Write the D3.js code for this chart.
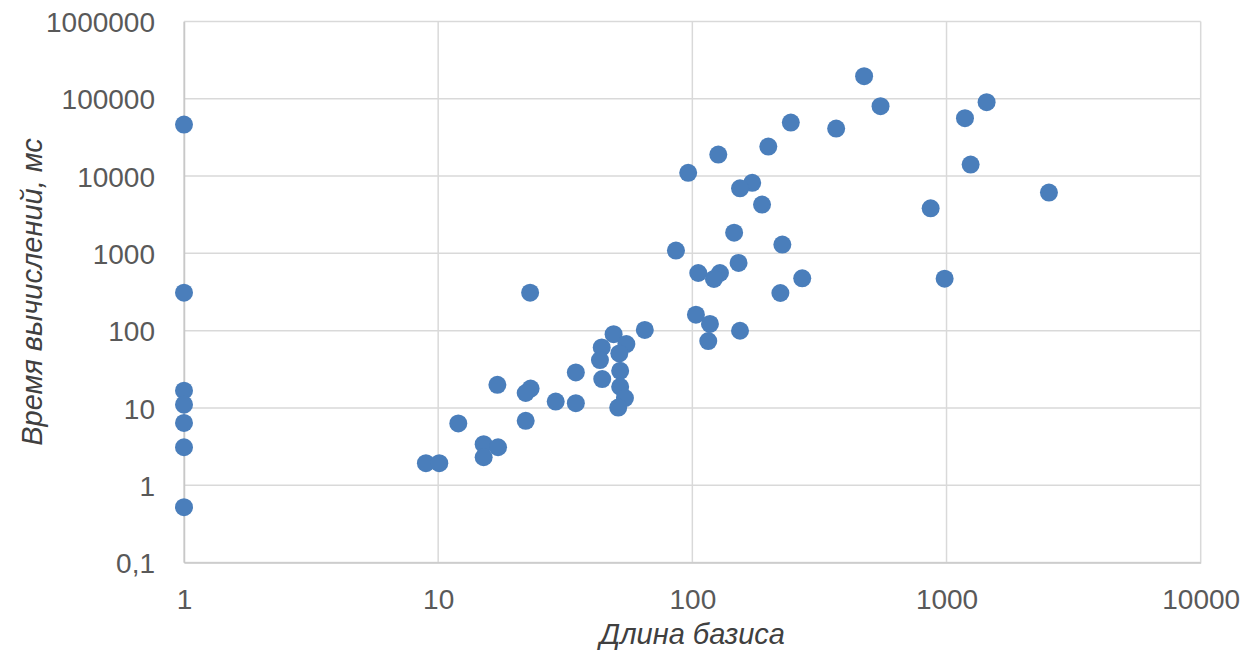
<!DOCTYPE html>
<html>
<head>
<meta charset="utf-8">
<script src="https://cdn.jsdelivr.net/npm/d3@7"></script>
<style>
  body { margin: 0; background: #fff; }
  text { font-family: "Liberation Sans", Arial, sans-serif; }
</style>
</head>
<body>
<svg id="chart" width="1258" height="652"></svg>
<script>
// basis length (x) and computation time, ms (y)
var basisLen = [
  1, 1, 1, 1, 1, 1, 1,
  49, 65, 44, 55, 51.6, 43.3, 34.8, 52, 44.2, 17.1, 23.1, 22.1, 52, 29, 34.8, 54.3, 51.1,
  12, 22.1, 15.1, 17.2, 15.1, 8.95, 10.1, 23,
  126.5, 199, 96.3, 172, 154, 188, 146, 86.2, 226, 152, 105.5, 128.4, 121.6, 270.6, 222,
  103.3, 117.3, 115.5, 154,
  474, 550, 244, 368, 1438, 1182, 1244, 2529, 866, 983
];
var calcTime = [
  46400, 310, 16.7, 11, 6.4, 3.1, 0.52,
  90, 102, 60.6, 67, 50.7, 41.6, 28.8, 30.2, 23.6, 19.9, 17.8, 15.6, 18.8, 12.1, 11.5, 13.4, 10.1,
  6.3, 6.8, 3.4, 3.1, 2.3, 1.93, 1.93, 310,
  19000, 24100, 11000, 8170, 6950, 4280, 1850, 1085, 1300, 751, 557, 557, 466, 475, 307,
  161, 122, 73.3, 99.7,
  196000, 80200, 49300, 41200, 90300, 56100, 14100, 6110, 3830, 470
];
var xTicks = [1, 10, 100, 1000, 10000];
var yTicks = [0.1, 1, 10, 100, 1000, 10000, 100000, 1000000];
var xTitle = "Длина базиса";
var yTitle = "Время вычислений, мс";

var svg = d3.select("#chart");
var plotL = 184, plotR = 1200.7, plotT = 21.5, plotB = 562.5;

var x = d3.scaleLog().domain([1, 10000]).range([plotL, plotR]);
var y = d3.scaleLog().domain([0.1, 1000000]).range([plotB, plotT]);

var fmt = function(d) { return String(d).replace(".", ","); };

// gridlines
svg.append("g").selectAll("line").data(yTicks).enter().append("line")
  .attr("x1", plotL).attr("x2", plotR)
  .attr("y1", function(d) { return y(d); }).attr("y2", function(d) { return y(d); })
  .attr("stroke", "#d9d9d9").attr("stroke-width", 1.5);
svg.append("g").selectAll("line").data(xTicks).enter().append("line")
  .attr("y1", plotT).attr("y2", plotB)
  .attr("x1", function(d) { return x(d); }).attr("x2", function(d) { return x(d); })
  .attr("stroke", "#d9d9d9").attr("stroke-width", 1.5);

// axes
var yAxis = svg.append("g")
  .attr("transform", "translate(" + plotL + ",0)")
  .call(d3.axisLeft(y).tickValues(yTicks).tickFormat(fmt).tickSize(0).tickPadding(29));
var xAxis = svg.append("g")
  .attr("transform", "translate(0," + plotB + ")")
  .call(d3.axisBottom(x).tickValues(xTicks).tickFormat(fmt).tickSize(0).tickPadding(27));

[xAxis, yAxis].forEach(function(a) {
  a.select(".domain").attr("stroke", "#c8c8c8").attr("stroke-width", 1.5);
  a.selectAll("text").attr("fill", "#595959").style("font-size", "28px");
});
yAxis.selectAll("text").attr("dy", "0.36em");

// points
svg.append("g").selectAll("circle")
  .data(basisLen.map(function(d, i) { return [d, calcTime[i]]; }))
  .enter().append("circle")
  .attr("cx", function(d) { return x(d[0]); })
  .attr("cy", function(d) { return y(d[1]); })
  .attr("r", 9)
  .attr("fill", "#4a7ebb");

// axis titles
svg.append("text")
  .attr("x", (plotL + plotR) / 2).attr("y", 644)
  .attr("text-anchor", "middle")
  .style("font-size", "29px").style("font-style", "italic")
  .attr("fill", "#404040")
  .text(xTitle);
svg.append("text")
  .attr("transform", "translate(42," + (plotT + plotB) / 2 + ") rotate(-90)")
  .attr("text-anchor", "middle")
  .style("font-size", "29px").style("font-style", "italic")
  .attr("fill", "#404040")
  .text(yTitle);
</script>
</body>
</html>
